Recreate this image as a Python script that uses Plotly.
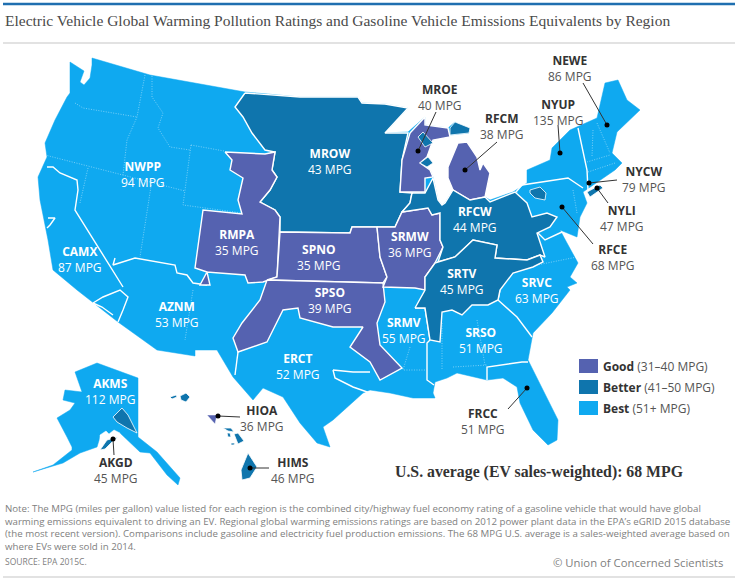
import plotly.graph_objects as go

# ratings
regioes = ["NWPP", "CAMX", "AZNM", "RMPA", "SPNO", "SPSO", "ERCT", "MROW", "SRMW", "SRMV", "MROE", "RFCM",
           "RFCW", "SRTV", "SRSO", "SRVC", "RFCE", "NYUP", "NEWE", "NYCW", "NYLI", "FRCC", "AKMS", "AKGD",
           "HIOA", "HIMS"]
mpg = [94, 87, 53, 35, 35, 39, 52, 43, 36, 55, 40, 38, 44, 45, 51, 63, 68, 135, 86, 79, 47, 51, 112, 45, 36, 46]

# outlines, in page pixels
contorno_eua = [(70, 62), (84, 71), (80, 82), (84, 85), (90, 78), (92, 65), (92, 58), (150, 75), (245, 92), (300, 97),
                (358, 97), (362, 103), (385, 104), (408, 108), (385, 133), (408, 132), (425, 117), (425, 125),
                (448, 128), (455, 122), (469, 133), (450, 135), (433, 140), (420, 163), (430, 170), (433, 177),
                (438, 200), (442, 205), (445, 203), (453, 190), (485, 197), (490, 200), (513, 192), (527, 183),
                (527, 170), (550, 160), (552, 148), (570, 130), (597, 118), (605, 83), (618, 80), (627, 100),
                (640, 110), (617, 132), (612, 153), (622, 163), (615, 170), (583, 192), (587, 203), (580, 217),
                (577, 237), (560, 230), (567, 243), (578, 263), (570, 277), (577, 283), (567, 287), (570, 290),
                (552, 313), (533, 333), (528, 360), (543, 390), (558, 420), (557, 440), (548, 445), (533, 430),
                (520, 403), (517, 387), (503, 378), (487, 380), (457, 373), (447, 378), (435, 382), (433, 393),
                (435, 398), (413, 398), (390, 393), (370, 390), (363, 393), (333, 420), (323, 427), (330, 447),
                (317, 443), (300, 423), (283, 397), (263, 388), (253, 400), (233, 377), (217, 350), (195, 350),
                (195, 356), (157, 350), (118, 322), (77, 290), (53, 270), (48, 240), (40, 200), (38, 177), (47, 157),
                (45, 143), (55, 120), (67, 97), (70, 93)]
poligonos = {
    "MROW": [(245, 93), (300, 97), (358, 97), (362, 103), (385, 104), (408, 108), (385, 133), (408, 133), (402, 160),
             (400, 192), (412, 193), (410, 203), (402, 212), (395, 227), (352, 227), (350, 233), (280, 232), (280, 217),
             (275, 210), (260, 202), (270, 190), (277, 177), (272, 170), (275, 152), (265, 150), (252, 133), (243, 117),
             (235, 107)],
    "RMPA": [(225, 152), (265, 154), (275, 152), (272, 170), (277, 177), (270, 190), (260, 202), (275, 210), (280, 217),
             (277, 277), (263, 282), (248, 283), (245, 275), (207, 272), (210, 285), (200, 285), (207, 272), (195, 268),
             (203, 210), (242, 214), (238, 200), (243, 178), (230, 170), (232, 160)],
    "SPNO": [(280, 232), (350, 233), (352, 227), (377, 227), (380, 257), (387, 277), (383, 283), (267, 280), (277, 277)],
    "SPSO": [(267, 280), (383, 283), (385, 302), (377, 323), (380, 345), (402, 368), (380, 380), (370, 362), (350, 347),
             (363, 327), (333, 327), (300, 318), (298, 308), (283, 310), (267, 342), (238, 352), (233, 338), (242, 323),
             (260, 300)],
    "SRMW": [(377, 227), (395, 227), (402, 212), (428, 208), (432, 215), (440, 213), (440, 240), (443, 247), (435, 263),
             (425, 277), (425, 290), (415, 288), (383, 287), (387, 277), (380, 257)],
    "MROE": [(410, 133), (425, 117), (425, 125), (448, 128), (450, 137), (433, 140), (427, 157), (420, 163), (430, 170),
             (433, 177), (425, 178), (425, 192), (400, 192), (402, 160)],
    "RFCM": [(448, 167), (458, 143), (467, 142), (477, 157), (480, 170), (483, 163), (490, 173), (485, 197), (470, 200),
             (453, 190), (448, 178)],
    "RFCW": [(412, 193), (425, 193), (433, 178), (438, 200), (442, 205), (445, 203), (453, 190), (470, 200), (485, 197),
             (490, 202), (515, 192), (527, 203), (532, 217), (547, 213), (557, 217), (550, 227), (537, 233), (545, 257),
             (540, 255), (527, 260), (495, 258), (497, 245), (473, 240), (455, 257), (438, 262), (443, 247), (440, 240),
             (440, 213), (432, 215), (428, 208), (402, 212), (410, 203)],
    "SRTV": [(415, 308), (425, 290), (425, 277), (435, 263), (438, 262), (455, 257), (473, 240), (497, 245), (495, 258),
             (527, 260), (540, 255), (543, 262), (533, 267), (513, 273), (500, 290), (498, 300), (488, 305), (472, 305),
             (462, 315), (452, 310), (442, 312), (440, 342), (430, 340), (425, 308)],
}
contorno_alasca = [(75, 372), (97, 363), (138, 378), (138, 437), (157, 452), (180, 478), (178, 485), (167, 475),
                   (150, 453), (140, 452), (120, 433), (113, 435), (100, 437), (97, 447), (80, 453), (63, 463),
                   (33, 472), (53, 465), (72, 450), (72, 447), (67, 437), (57, 418), (70, 410), (75, 403), (63, 400),
                   (65, 390), (82, 392)]
baia_alasca = [(100, 435), (106, 431), (109, 434), (114, 430), (120, 433), (118, 437), (107, 440), (100, 440)]
ilhas_melhor = [
    [(418, 137), (423, 132), (433, 143), (425, 147)],
    [(420, 163), (428, 157), (433, 163), (427, 167)],
    [(450, 128), (455, 122), (470, 128), (469, 133), (450, 135)],
    [(530, 190), (540, 187), (546, 193), (545, 200), (535, 198), (530, 193)],
    [(587, 192), (600, 185), (603, 188), (590, 197)],
    [(113, 417), (122, 408), (128, 415), (137, 433), (127, 428), (117, 422)],
    [(100, 450), (107, 440), (118, 437), (112, 442), (105, 449)],
    [(170, 397), (176, 395), (177, 397), (172, 399)],
    [(180, 396), (186, 393), (190, 397), (186, 402), (181, 400)],
    [(223, 428), (231, 428), (234, 432), (228, 431)],
    [(227, 433), (230, 433), (231, 437), (228, 437)],
    [(234, 434), (238, 433), (244, 441), (238, 444)],
    [(231, 443), (235, 443), (234, 445), (231, 445)],
    [(248, 453), (257, 467), (250, 478), (242, 480), (241, 470)],
]
ilha_boa = [(207, 415), (217, 415), (215, 424), (211, 420)]

fronteiras = [
    [(47, 167), (53, 167), (60, 173), (77, 180), (78, 190), (75, 210), (123, 287)],
    [(115, 258), (113, 265), (135, 258), (175, 265), (177, 273), (187, 275), (193, 283), (207, 285)],
    [(93, 303), (103, 297), (120, 290), (128, 297), (123, 310), (118, 322)],
    [(93, 303), (102, 307), (113, 315)],
    [(238, 352), (235, 375)],
    [(333, 370), (353, 372), (370, 372)],
    [(333, 370), (335, 378), (353, 387), (370, 393)],
    [(415, 308), (425, 308), (430, 340), (427, 343), (427, 380), (434, 385)],
    [(500, 290), (498, 300), (517, 317), (532, 337)],
    [(487, 380), (487, 367), (522, 362), (528, 362)],
    [(516, 192), (522, 185), (568, 178), (583, 188)],
    [(578, 128), (587, 170), (588, 190)],
    [(538, 233), (545, 240), (562, 232)],
    [(48, 218), (55, 218), (50, 225), (47, 228)],
]
divisas = [
    [(145, 75), (137, 117), (127, 140), (123, 175)],
    [(75, 103), (83, 108), (107, 112), (137, 117)],
    [(152, 76), (152, 97), (163, 113), (158, 128), (170, 147), (190, 150)],
    [(45, 155), (123, 175), (185, 191)],
    [(191, 145), (224, 151)],
    [(191, 145), (183, 205), (242, 213)],
    [(152, 180), (140, 257)],
    [(88, 168), (80, 203)],
    [(268, 95), (265, 140), (342, 143)],
    [(335, 98), (342, 143), (342, 190), (352, 227)],
    [(273, 186), (340, 192)],
    [(342, 182), (400, 182)],
    [(380, 147), (400, 173)],
    [(193, 290), (185, 340)],
    [(353, 227), (363, 283)],
    [(593, 130), (592, 157)],
    [(597, 123), (610, 153)],
    [(587, 162), (610, 155)],
    [(588, 172), (615, 163)],
    [(573, 190), (577, 213)],
    [(517, 192), (517, 223)],
    [(472, 213), (473, 240)],
    [(497, 273), (577, 257)],
    [(477, 320), (485, 365)],
    [(442, 323), (442, 370)],
    [(453, 367), (487, 365)],
    [(410, 347), (403, 370), (425, 370)],
    [(515, 225), (500, 245), (495, 258)],
]

# where each two line label goes: centre x, centre y
rotulos_claros = {"NWPP": (143, 174.5), "CAMX": (80, 259.5), "AZNM": (177, 314.5), "RMPA": (237, 242.5),
                  "SPNO": (319, 257), "SPSO": (330, 300.5), "ERCT": (298, 366), "MROW": (330, 161),
                  "SRMW": (410, 244.5), "SRMV": (404, 330.5), "RFCW": (475, 219.5), "SRTV": (462, 281),
                  "SRSO": (481, 340.5), "SRVC": (537, 290.5), "AKMS": (110, 391)}
rotulos_escuros = {"MROE": (440, 97), "RFCM": (502, 126.5), "NYUP": (558, 112), "NEWE": (570, 68),
                   "NYCW": (644, 179), "NYLI": (622, 218.5), "RFCE": (613, 257.5), "FRCC": (483, 421.5),
                   "AKGD": (116, 470), "HIOA": (262, 418), "HIMS": (293, 470)}
# leader lines: (label end, dot end)
guias = [((583, 83), (607, 125)), ((558, 125), (560, 153)), ((436, 112), (418, 151)), ((497, 142), (465, 170)),
         ((617, 180), (589, 183)), ((608, 203), (597, 188)), ((593, 244), (562, 207)), ((508, 409), (527, 388)),
         ((240, 417), (218, 416)), ((114, 455), (113, 439)), ((269, 468), (250, 468))]

legenda = [("Good", "(31–40 MPG)"), ("Better", "(41–50 MPG)"), ("Best", "(51+ MPG)")]

nota = ["Note: The MPG (miles per gallon) value listed for each region is the combined city/highway fuel economy rating of a gasoline vehicle that would have global",
        "warming emissions equivalent to driving an EV. Regional global warming emissions ratings are based on 2012 power plant data in the EPA’s eGRID 2015 database",
        "(the most recent version). Comparisons include gasoline and electricity fuel production emissions. The 68 MPG U.S. average is a sales-weighted average based on",
        "where EVs were sold in 2014."]

COR_BOA = "#5562B0"
COR_MELHOR = "#0F75AD"
COR_OTIMA = "#0FA9F0"
FONTE = "Open Sans"
SERIFA = "Liberation Serif"


def cor_do_mpg(valor):
    if valor <= 40:
        return COR_BOA
    if valor <= 50:
        return COR_MELHOR
    return COR_OTIMA


def poligono(fig, pontos, cor, borda="white", largura=1.4):
    xs = [p[0] for p in pontos] + [pontos[0][0]]
    ys = [p[1] for p in pontos] + [pontos[0][1]]
    fig.add_trace(go.Scatter(x=xs, y=ys, mode="lines", fill="toself", fillcolor=cor,
                             line=dict(color=borda, width=largura), hoverinfo="skip"))


def linha(fig, pontos, cor="white", largura=1.4, dash="solid"):
    fig.add_trace(go.Scatter(x=[p[0] for p in pontos], y=[p[1] for p in pontos], mode="lines",
                             line=dict(color=cor, width=largura, dash=dash), hoverinfo="skip"))


def texto(fig, x, y, txt, tam, cor, fonte=FONTE, ancora="center", alinhar="center"):
    fig.add_annotation(x=x, y=y, text=txt, showarrow=False, xanchor=ancora, yanchor="middle", align=alinhar,
                       font=dict(family=fonte, size=tam, color=cor), borderpad=0)


fig = go.Figure()
valores = dict(zip(regioes, mpg))

poligono(fig, contorno_eua, COR_OTIMA, borda=COR_OTIMA, largura=0.5)
poligono(fig, contorno_alasca, COR_OTIMA, borda=COR_OTIMA, largura=0.5)
poligono(fig, baia_alasca, "white", largura=0.5)
for caminho in divisas:
    linha(fig, caminho, cor="rgba(255,255,255,0.55)", largura=0.8, dash="1px,1.5px")
for caminho in fronteiras:
    linha(fig, caminho)
for nome, pontos in poligonos.items():
    poligono(fig, pontos, cor_do_mpg(valores[nome]))
for pontos in ilhas_melhor:
    poligono(fig, pontos, COR_MELHOR, largura=0.8)
poligono(fig, ilha_boa, COR_BOA, largura=0.5)

for inicio, fim in guias:
    linha(fig, [inicio, fim], cor="#333333", largura=1)
fig.add_trace(go.Scatter(x=[g[1][0] for g in guias], y=[g[1][1] for g in guias], mode="markers",
                         marker=dict(color="black", size=5), hoverinfo="skip"))

for nome, (x, y) in rotulos_claros.items():
    texto(fig, x, y, f"<b>{nome}</b><br>{valores[nome]} MPG", 12, "white")
for nome, (x, y) in rotulos_escuros.items():
    texto(fig, x, y, f"<b>{nome}</b><br><span style='color:#555555'>{valores[nome]} MPG</span>", 12, "#333333")

# legend
for i, (cor, (rotulo, faixa)) in enumerate(zip([COR_BOA, COR_MELHOR, COR_OTIMA], legenda)):
    y0 = 359 + i * 21
    fig.add_shape(type="rect", x0=579, x1=598, y0=y0, y1=y0 + 14, fillcolor=cor, line=dict(width=0))
    texto(fig, 602, y0 + 7.5, f"<b>{rotulo}</b> <span style='color:#555555'>{faixa}</span>", 12, "#333333", ancora="left")

# rules and text around the map
fig.add_shape(type="line", x0=3, x1=735, y0=4, y1=4, line=dict(color="#1F6FB0", width=2.5))
fig.add_shape(type="line", x0=3, x1=735, y0=43, y1=43, line=dict(color="#D9D9D9", width=1.5))
fig.add_shape(type="line", x0=3, x1=735, y0=577, y1=577, line=dict(color="#D9D9D9", width=1.5))
texto(fig, 4, 20.5, "Electric Vehicle Global Warming Pollution Ratings and Gasoline Vehicle Emissions Equivalents by Region",
      15.5, "#4A4A4A", fonte=SERIFA, ancora="left")
texto(fig, 539, 472, "<b>U.S. average (EV sales-weighted): 68 MPG</b>", 15.8, "#333333", fonte=SERIFA)
texto(fig, 4, 527, "<br>".join(nota), 9.7, "#808080", ancora="left", alinhar="left")
texto(fig, 4, 561, "SOURCE: EPA 2015C.", 8.5, "#808080", ancora="left")
texto(fig, 724, 562, "© Union of Concerned Scientists", 11.3, "#808080", ancora="right")

fig.update_xaxes(range=[0, 740], visible=False, fixedrange=True)
fig.update_yaxes(range=[582, 0], visible=False, fixedrange=True)
fig.update_layout(width=740, height=582, margin=dict(l=0, r=0, t=0, b=0), showlegend=False,
                  plot_bgcolor="white", paper_bgcolor="white")
# the page's default body margin would push the figure 8px in
fig.write_html("out.html", config={"displayModeBar": False}, post_script="document.body.style.margin='0';")
